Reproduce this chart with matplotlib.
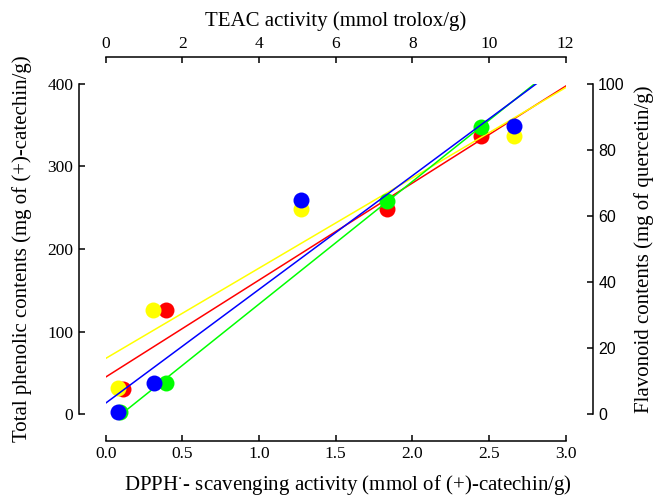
import numpy as np
import matplotlib
matplotlib.use("Agg")
import matplotlib.pyplot as plt

plt.rcParams["font.family"] = ["Liberation Serif", "DejaVu Serif"]
plt.rcParams["mathtext.fontset"] = "stix"

# four extracts, read against each activity / content scale
dpph_red = [0.11, 0.393, 1.837, 2.448]
phenolic_red = [30, 126, 249, 337]

teac_yellow = [0.33, 1.24, 5.09, 10.65]
phenolic_yellow = [31, 126, 249, 337]

dpph_green = [0.094, 0.393, 1.837, 2.448]
flavonoid_green = [0.7, 9.5, 64.6, 87.1]

teac_blue = [0.31, 1.26, 5.09, 10.65]
flavonoid_blue = [0.7, 9.5, 64.8, 87.3]

DPPH_LIM = (0, 3.0)
TEAC_LIM = (0, 12)
PHENOLIC_LIM = (0, 400)
FLAVONOID_LIM = (0, 100)

SERIF_SIZE = 12.5
LABEL_SIZE = 15
OFFSET = 19.4
MARKER = 11.5

fig = plt.figure(figsize=(6.54, 5.01), dpi=100)
rect = [105.7 / 654, 87 / 501, 460 / 654, 330 / 501]

ax_dp = fig.add_axes(rect)
ax_tp = ax_dp.twiny()
ax_df = ax_dp.twinx()
ax_tf = fig.add_axes(rect)
ax_tf.set_position(ax_dp.get_position())


def scatter_fit(ax, xs, ys, xlim, color):
    slope, intercept = np.polyfit(xs, ys, 1)
    line_x = np.array(xlim)
    ax.plot(line_x, intercept + slope * line_x, color=color, lw=1.1)
    ax.plot(xs, ys, "o", color=color, ms=MARKER, mec="none", clip_on=False)


for ax in (ax_dp, ax_tp, ax_df, ax_tf):
    for side in ("left", "right", "top", "bottom"):
        ax.spines[side].set_visible(False)
    ax.patch.set_visible(False)
    ax.tick_params(left=False, right=False, top=False, bottom=False,
                   labelleft=False, labelright=False, labeltop=False, labelbottom=False)

ax_dp.set_xlim(*DPPH_LIM)
ax_dp.set_ylim(*PHENOLIC_LIM)
ax_tp.set_xlim(*TEAC_LIM)
ax_df.set_ylim(*FLAVONOID_LIM)
ax_tf.set_xlim(*TEAC_LIM)
ax_tf.set_ylim(*FLAVONOID_LIM)

scatter_fit(ax_dp, dpph_red, phenolic_red, DPPH_LIM, "#ff0000")
scatter_fit(ax_tp, teac_yellow, phenolic_yellow, TEAC_LIM, "#ffff00")
scatter_fit(ax_df, dpph_green, flavonoid_green, DPPH_LIM, "#00ff00")
scatter_fit(ax_tf, teac_blue, flavonoid_blue, TEAC_LIM, "#0000ff")

# bottom: DPPH
ax_dp.spines["bottom"].set_visible(True)
ax_dp.spines["bottom"].set_position(("outward", OFFSET))
ax_dp.set_xticks(np.arange(0, 3.01, 0.5))
ax_dp.set_xticklabels([f"{v:.1f}" for v in np.arange(0, 3.01, 0.5)])
ax_dp.tick_params(axis="x", bottom=True, labelbottom=True, direction="in",
                  length=4, width=1.1, pad=4, labelsize=SERIF_SIZE)
ax_dp.set_xlabel("DPPH$^{\\cdot}$- scavenging activity (mmol of (+)-catechin/g)",
                 fontsize=LABEL_SIZE)
ax_dp.xaxis.set_label_coords(0.527, -0.18)

# left: total phenolics
ax_dp.spines["left"].set_visible(True)
ax_dp.spines["left"].set_position(("outward", OFFSET))
ax_dp.set_yticks(np.arange(0, 401, 100))
ax_dp.tick_params(axis="y", left=True, labelleft=True, direction="in",
                  length=4, width=1.1, pad=4, labelsize=SERIF_SIZE)
ax_dp.set_ylabel("Total phenolic contents (mg of (+)-catechin/g)",
                 fontsize=LABEL_SIZE, labelpad=11)

# top: TEAC
ax_tp.spines["top"].set_visible(True)
ax_tp.spines["top"].set_position(("outward", OFFSET))
ax_tp.set_xticks(np.arange(0, 13, 2))
ax_tp.tick_params(axis="x", top=True, labeltop=True, direction="in",
                  length=4, width=1.1, pad=4, labelsize=SERIF_SIZE)
ax_tp.xaxis.set_label_position("top")
ax_tp.set_xlabel("TEAC activity (mmol trolox/g)", fontsize=LABEL_SIZE, labelpad=7)

# right: flavonoids
ax_df.spines["right"].set_visible(True)
ax_df.spines["right"].set_position(("outward", OFFSET))
ax_df.set_yticks(np.arange(0, 101, 20))
ax_df.tick_params(axis="y", right=True, labelright=True, direction="in",
                  length=4, width=1.1, pad=4, labelsize=11.5)
for lbl in ax_df.get_yticklabels():
    lbl.set_family(["Liberation Sans", "DejaVu Sans"])
ax_df.yaxis.set_label_position("right")
ax_df.set_ylabel("Flavonoid contents (mg of quercetin/g)", fontsize=LABEL_SIZE,
                 labelpad=7)

for ax in (ax_dp, ax_tp, ax_df):
    for side in ("left", "right", "top", "bottom"):
        ax.spines[side].set_linewidth(1.1)

fig.savefig("out.png", dpi=100)
